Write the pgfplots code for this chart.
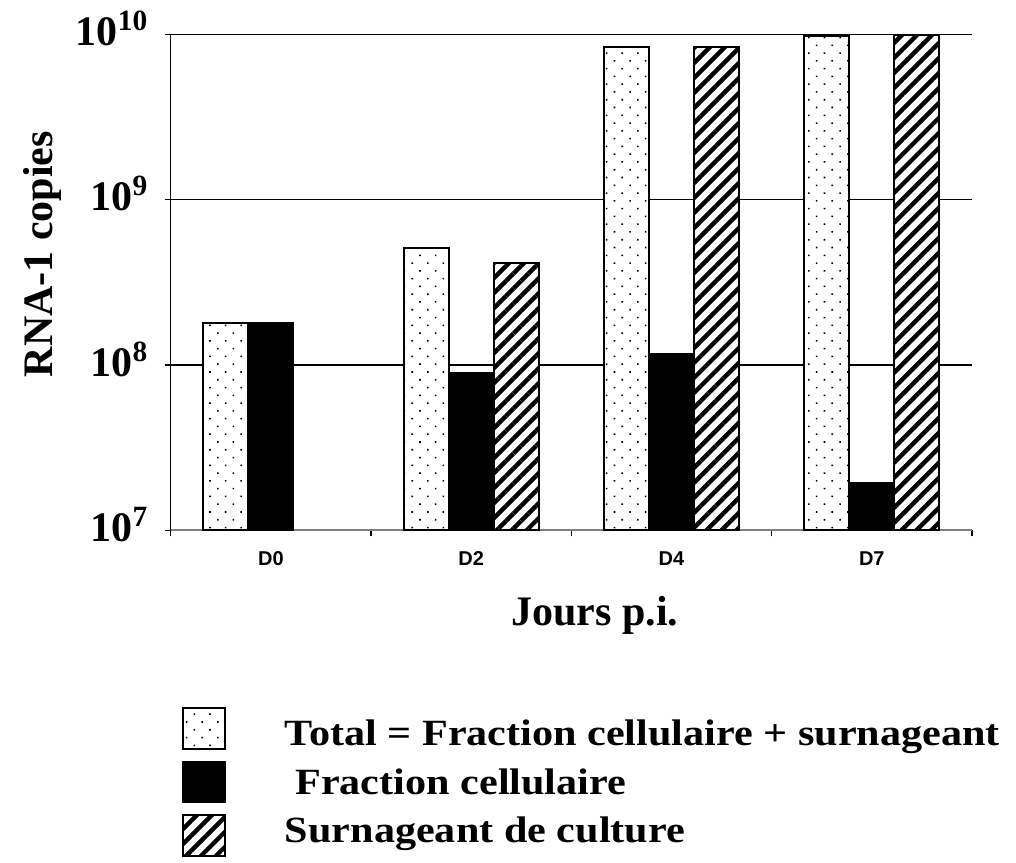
\documentclass[border=0pt]{standalone}
\usepackage{pgfplots}
\pgfplotsset{compat=1.18}
\usepackage{fontspec}
\setmainfont{Liberation Serif}
\newfontfamily\arialfont{Liberation Sans}
\newfontfamily\legfont{Liberation Serif}[FakeStretch=1.14]
\usetikzlibrary{patterns.meta}
\pgfplotsset{
  mylegend/.style={legend image code/.code={%
    \draw[##1, line width=0.8pt] (0pt,-9.1pt) rectangle (21pt,11.4pt);}},
}
\begin{document}
\begin{tikzpicture}
\begin{axis}[
  scale only axis, width=400.65pt, height=248.1pt,
  ymode=log, ymin=1e7, ymax=1e10, log origin=infty,
  xmin=-0.5, xmax=3.5,
  ybar=0pt, bar width=22.5pt,
  axis x line=bottom, axis y line=left,
  x axis line style={-, draw=black!50, line width=1pt},
  y axis line style={-, black, line width=0.6pt},
  tick align=outside, major tick length=3pt,
  tick style={black, line width=0.6pt},
  xtick={-0.5,0.5,1.5,2.5,3.5}, xticklabels={},
  extra x ticks={0,1,2,3}, extra x tick labels={D0,D2,D4,D7},
  extra x tick style={major tick length=0pt, grid=none,
    xticklabel style={font=\arialfont\bfseries\fontsize{10}{12}\selectfont, yshift=-7pt}},
  ytick={1e7,1e8,1e9,1e10},
  yticklabels={10\textsuperscript{7},10\textsuperscript{8},10\textsuperscript{9},10\textsuperscript{10}},
  yminorticks=false,
  yticklabel style={font=\bfseries\fontsize{21}{25}\selectfont, anchor=base east, inner sep=0pt, xshift=-8pt, yshift=-5.5pt},
  ymajorgrids, major grid style={black, line width=0.6pt},
  xlabel={Jours p.i.}, ylabel={RNA-1 copies},
  label style={font=\bfseries\fontsize{21}{25}\selectfont},
  xlabel style={at={(axis description cs:0.5295,-0.171)}, anchor=center},
  ylabel style={at={(axis description cs:-0.1607,0.557)}, anchor=center},
  legend cell align=left,
  legend style={at={(axis description cs:0.0141,-0.355)}, anchor=north west,
    draw=none, fill=none, inner sep=0pt, row sep=5.5pt,
    font=\legfont\bfseries\fontsize{18.5}{22}\selectfont,
    nodes={text height=13pt, text depth=3pt, inner ysep=0pt, inner xsep=0pt},
    /tikz/every odd column/.append style={column sep=29.5pt}},
]
\addplot[draw=black, line width=1pt, fill=white,
  postaction={pattern={Dots[angle=45,distance=5.5pt,radius=0.55pt]}, pattern color=black},
  mylegend]
  coordinates {(0,1.79e8) (1,5.1e8) (2,8.4e9) (3,9.8e9)};
\addplot[draw=black, line width=1pt, fill=black, mylegend]
  coordinates {(0,1.79e8) (1,8.9e7) (2,1.17e8) (3,1.94e7)};
\addplot[draw=black, line width=1pt, fill=white,
  postaction={pattern={Lines[angle=45,distance=5.3pt,line width=2.2pt]}},
  mylegend]
  coordinates {(1,4.16e8) (2,8.4e9) (3,9.85e9)};
\legend{\raisebox{-2.6pt}{Total = Fraction cellulaire + surnageant}, \hspace*{5.2pt}Fraction cellulaire, \raisebox{2.75pt}{Surnageant de culture}}
\end{axis}
\begin{scope}[shift={(current axis.south west)}]
\pgfresetboundingbox
\useasboundingbox (-85.35pt,-165.75pt) rectangle (422.65pt,265.25pt);
\end{scope}
\end{tikzpicture}
\end{document}
